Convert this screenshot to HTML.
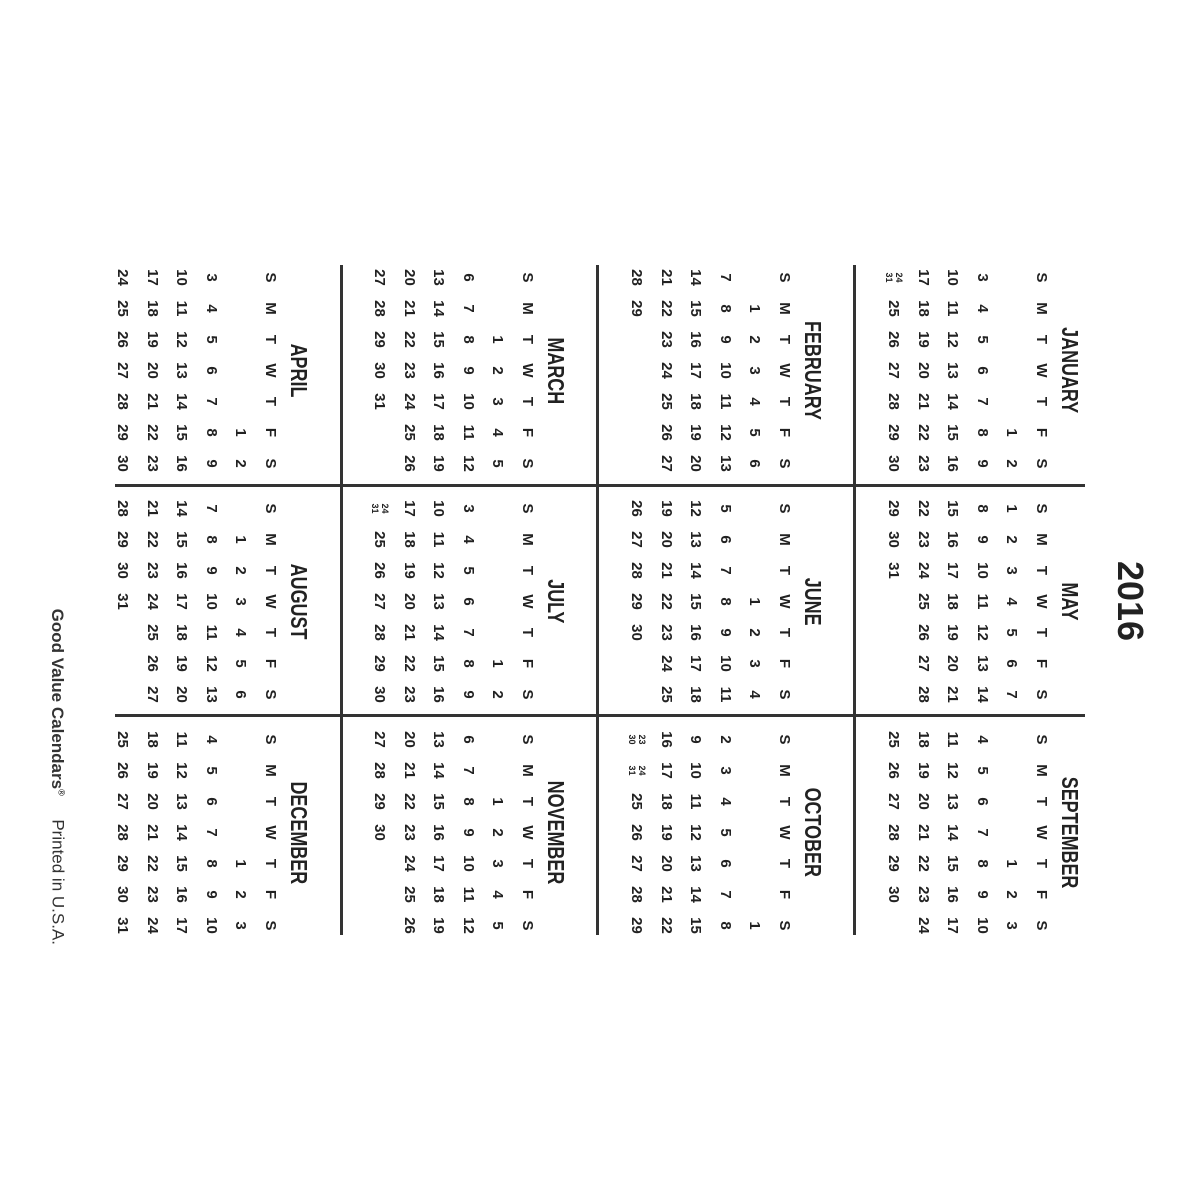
<!DOCTYPE html>
<html><head><meta charset="utf-8"><style>
body{margin:0;background:#fff;}
#wrap{position:absolute;left:0;top:0;width:1200px;height:1200px;overflow:hidden;background:#fff}
#p{position:absolute;left:0;top:0;width:1200px;height:1200px;transform-origin:0 0;transform:translate(1200px,0) rotate(90deg);font-family:"Liberation Sans",sans-serif;color:#222}
.ln{position:absolute;background:#333}
.m{position:absolute;width:217px}
.t{height:28px;line-height:28px;text-align:center}
.t span{display:inline-block;font-weight:bold;font-size:23px;transform:scaleX(.78)}
.r{height:29.6px;line-height:29.6px;white-space:nowrap}
.r i{font-style:normal;display:inline-block;width:31px;text-align:center;font-weight:bold;font-size:15px;vertical-align:top}
.r i.s{font-size:9px;line-height:10px;padding-top:4px}
</style></head><body><div id="wrap"><div id="p">
<div style="position:absolute;left:555px;top:48px;width:92px;text-align:center;font-weight:bold;font-size:36px;line-height:44px">2016</div>

<div class="ln" style="left:265px;top:344px;width:670px;height:3px"></div>
<div class="ln" style="left:265px;top:601px;width:670px;height:3px"></div>
<div class="ln" style="left:265px;top:857px;width:670px;height:3px"></div>
<div class="ln" style="left:484px;top:115px;width:3px;height:970px"></div>
<div class="ln" style="left:714px;top:115px;width:3px;height:970px"></div>

<!-- Row 1 -->
<div class="m" style="left:262px;top:116px"><div class="t"><span>JANUARY</span></div>
<div class="r"><i>S</i><i>M</i><i>T</i><i>W</i><i>T</i><i>F</i><i>S</i></div>
<div class="r"><i></i><i></i><i></i><i></i><i></i><i>1</i><i>2</i></div>
<div class="r"><i>3</i><i>4</i><i>5</i><i>6</i><i>7</i><i>8</i><i>9</i></div>
<div class="r"><i>10</i><i>11</i><i>12</i><i>13</i><i>14</i><i>15</i><i>16</i></div>
<div class="r"><i>17</i><i>18</i><i>19</i><i>20</i><i>21</i><i>22</i><i>23</i></div>
<div class="r"><i class="s">24<br>31</i><i>25</i><i>26</i><i>27</i><i>28</i><i>29</i><i>30</i></div></div>

<div class="m" style="left:493px;top:116px"><div class="t"><span>MAY</span></div>
<div class="r"><i>S</i><i>M</i><i>T</i><i>W</i><i>T</i><i>F</i><i>S</i></div>
<div class="r"><i>1</i><i>2</i><i>3</i><i>4</i><i>5</i><i>6</i><i>7</i></div>
<div class="r"><i>8</i><i>9</i><i>10</i><i>11</i><i>12</i><i>13</i><i>14</i></div>
<div class="r"><i>15</i><i>16</i><i>17</i><i>18</i><i>19</i><i>20</i><i>21</i></div>
<div class="r"><i>22</i><i>23</i><i>24</i><i>25</i><i>26</i><i>27</i><i>28</i></div>
<div class="r"><i>29</i><i>30</i><i>31</i></div></div>

<div class="m" style="left:724px;top:116px"><div class="t"><span>SEPTEMBER</span></div>
<div class="r"><i>S</i><i>M</i><i>T</i><i>W</i><i>T</i><i>F</i><i>S</i></div>
<div class="r"><i></i><i></i><i></i><i></i><i>1</i><i>2</i><i>3</i></div>
<div class="r"><i>4</i><i>5</i><i>6</i><i>7</i><i>8</i><i>9</i><i>10</i></div>
<div class="r"><i>11</i><i>12</i><i>13</i><i>14</i><i>15</i><i>16</i><i>17</i></div>
<div class="r"><i>18</i><i>19</i><i>20</i><i>21</i><i>22</i><i>23</i><i>24</i></div>
<div class="r"><i>25</i><i>26</i><i>27</i><i>28</i><i>29</i><i>30</i></div></div>

<!-- Row 2 -->
<div class="m" style="left:262px;top:373px"><div class="t"><span>FEBRUARY</span></div>
<div class="r"><i>S</i><i>M</i><i>T</i><i>W</i><i>T</i><i>F</i><i>S</i></div>
<div class="r"><i></i><i>1</i><i>2</i><i>3</i><i>4</i><i>5</i><i>6</i></div>
<div class="r"><i>7</i><i>8</i><i>9</i><i>10</i><i>11</i><i>12</i><i>13</i></div>
<div class="r"><i>14</i><i>15</i><i>16</i><i>17</i><i>18</i><i>19</i><i>20</i></div>
<div class="r"><i>21</i><i>22</i><i>23</i><i>24</i><i>25</i><i>26</i><i>27</i></div>
<div class="r"><i>28</i><i>29</i></div></div>

<div class="m" style="left:493px;top:373px"><div class="t"><span>JUNE</span></div>
<div class="r"><i>S</i><i>M</i><i>T</i><i>W</i><i>T</i><i>F</i><i>S</i></div>
<div class="r"><i></i><i></i><i></i><i>1</i><i>2</i><i>3</i><i>4</i></div>
<div class="r"><i>5</i><i>6</i><i>7</i><i>8</i><i>9</i><i>10</i><i>11</i></div>
<div class="r"><i>12</i><i>13</i><i>14</i><i>15</i><i>16</i><i>17</i><i>18</i></div>
<div class="r"><i>19</i><i>20</i><i>21</i><i>22</i><i>23</i><i>24</i><i>25</i></div>
<div class="r"><i>26</i><i>27</i><i>28</i><i>29</i><i>30</i></div></div>

<div class="m" style="left:724px;top:373px"><div class="t"><span>OCTOBER</span></div>
<div class="r"><i>S</i><i>M</i><i>T</i><i>W</i><i>T</i><i>F</i><i>S</i></div>
<div class="r"><i></i><i></i><i></i><i></i><i></i><i></i><i>1</i></div>
<div class="r"><i>2</i><i>3</i><i>4</i><i>5</i><i>6</i><i>7</i><i>8</i></div>
<div class="r"><i>9</i><i>10</i><i>11</i><i>12</i><i>13</i><i>14</i><i>15</i></div>
<div class="r"><i>16</i><i>17</i><i>18</i><i>19</i><i>20</i><i>21</i><i>22</i></div>
<div class="r"><i class="s">23<br>30</i><i class="s">24<br>31</i><i>25</i><i>26</i><i>27</i><i>28</i><i>29</i></div></div>

<!-- Row 3 -->
<div class="m" style="left:262px;top:630px"><div class="t"><span>MARCH</span></div>
<div class="r"><i>S</i><i>M</i><i>T</i><i>W</i><i>T</i><i>F</i><i>S</i></div>
<div class="r"><i></i><i></i><i>1</i><i>2</i><i>3</i><i>4</i><i>5</i></div>
<div class="r"><i>6</i><i>7</i><i>8</i><i>9</i><i>10</i><i>11</i><i>12</i></div>
<div class="r"><i>13</i><i>14</i><i>15</i><i>16</i><i>17</i><i>18</i><i>19</i></div>
<div class="r"><i>20</i><i>21</i><i>22</i><i>23</i><i>24</i><i>25</i><i>26</i></div>
<div class="r"><i>27</i><i>28</i><i>29</i><i>30</i><i>31</i></div></div>

<div class="m" style="left:493px;top:630px"><div class="t"><span>JULY</span></div>
<div class="r"><i>S</i><i>M</i><i>T</i><i>W</i><i>T</i><i>F</i><i>S</i></div>
<div class="r"><i></i><i></i><i></i><i></i><i></i><i>1</i><i>2</i></div>
<div class="r"><i>3</i><i>4</i><i>5</i><i>6</i><i>7</i><i>8</i><i>9</i></div>
<div class="r"><i>10</i><i>11</i><i>12</i><i>13</i><i>14</i><i>15</i><i>16</i></div>
<div class="r"><i>17</i><i>18</i><i>19</i><i>20</i><i>21</i><i>22</i><i>23</i></div>
<div class="r"><i class="s">24<br>31</i><i>25</i><i>26</i><i>27</i><i>28</i><i>29</i><i>30</i></div></div>

<div class="m" style="left:724px;top:630px"><div class="t"><span>NOVEMBER</span></div>
<div class="r"><i>S</i><i>M</i><i>T</i><i>W</i><i>T</i><i>F</i><i>S</i></div>
<div class="r"><i></i><i></i><i>1</i><i>2</i><i>3</i><i>4</i><i>5</i></div>
<div class="r"><i>6</i><i>7</i><i>8</i><i>9</i><i>10</i><i>11</i><i>12</i></div>
<div class="r"><i>13</i><i>14</i><i>15</i><i>16</i><i>17</i><i>18</i><i>19</i></div>
<div class="r"><i>20</i><i>21</i><i>22</i><i>23</i><i>24</i><i>25</i><i>26</i></div>
<div class="r"><i>27</i><i>28</i><i>29</i><i>30</i></div></div>

<!-- Row 4 -->
<div class="m" style="left:262px;top:887px"><div class="t"><span>APRIL</span></div>
<div class="r"><i>S</i><i>M</i><i>T</i><i>W</i><i>T</i><i>F</i><i>S</i></div>
<div class="r"><i></i><i></i><i></i><i></i><i></i><i>1</i><i>2</i></div>
<div class="r"><i>3</i><i>4</i><i>5</i><i>6</i><i>7</i><i>8</i><i>9</i></div>
<div class="r"><i>10</i><i>11</i><i>12</i><i>13</i><i>14</i><i>15</i><i>16</i></div>
<div class="r"><i>17</i><i>18</i><i>19</i><i>20</i><i>21</i><i>22</i><i>23</i></div>
<div class="r"><i>24</i><i>25</i><i>26</i><i>27</i><i>28</i><i>29</i><i>30</i></div></div>

<div class="m" style="left:493px;top:887px"><div class="t"><span>AUGUST</span></div>
<div class="r"><i>S</i><i>M</i><i>T</i><i>W</i><i>T</i><i>F</i><i>S</i></div>
<div class="r"><i></i><i>1</i><i>2</i><i>3</i><i>4</i><i>5</i><i>6</i></div>
<div class="r"><i>7</i><i>8</i><i>9</i><i>10</i><i>11</i><i>12</i><i>13</i></div>
<div class="r"><i>14</i><i>15</i><i>16</i><i>17</i><i>18</i><i>19</i><i>20</i></div>
<div class="r"><i>21</i><i>22</i><i>23</i><i>24</i><i>25</i><i>26</i><i>27</i></div>
<div class="r"><i>28</i><i>29</i><i>30</i><i>31</i></div></div>

<div class="m" style="left:724px;top:887px"><div class="t"><span>DECEMBER</span></div>
<div class="r"><i>S</i><i>M</i><i>T</i><i>W</i><i>T</i><i>F</i><i>S</i></div>
<div class="r"><i></i><i></i><i></i><i></i><i>1</i><i>2</i><i>3</i></div>
<div class="r"><i>4</i><i>5</i><i>6</i><i>7</i><i>8</i><i>9</i><i>10</i></div>
<div class="r"><i>11</i><i>12</i><i>13</i><i>14</i><i>15</i><i>16</i><i>17</i></div>
<div class="r"><i>18</i><i>19</i><i>20</i><i>21</i><i>22</i><i>23</i><i>24</i></div>
<div class="r"><i>25</i><i>26</i><i>27</i><i>28</i><i>29</i><i>30</i><i>31</i></div></div>

<div style="position:absolute;left:445px;top:1127px;width:500px;text-align:right;font-size:17px;line-height:22px;color:#333;white-space:nowrap"><b>Good Value Calendars<sup style="font-size:9px">®</sup></b>&nbsp;&nbsp;&nbsp;&nbsp;&nbsp;Printed in U.S.A.</div>
</div></div></body></html>
